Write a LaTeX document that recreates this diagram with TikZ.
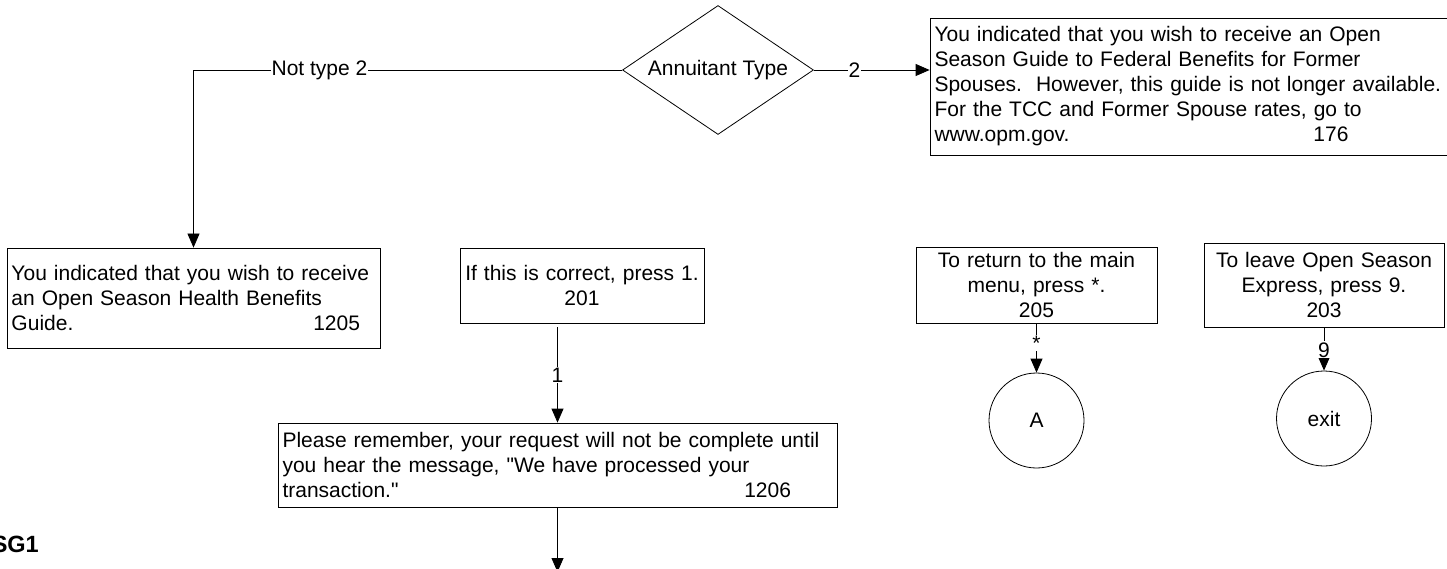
\documentclass[tikz,border=0pt]{standalone}
\usepackage{fontspec}
\setmainfont{Liberation Sans}[Ligatures=TeXOff]
\usetikzlibrary{shapes.geometric,arrows.meta}
\begin{document}
\begin{tikzpicture}[x=1pt,y=-1pt,
  every node/.style={font=\fontsize{21}{25}\selectfont},
  box/.style={draw, line width=0.8pt, inner xsep=4.5pt, inner ysep=0pt, rectangle},
  lbox/.style={box, align=left},
  cbox/.style={box, align=center},
  conn/.style={draw, line width=0.8pt},
  arr/.style={conn, -{Triangle[length=14pt,width=12pt]}},
  lab/.style={fill=white, inner sep=1pt},
  term/.style={circle, draw, line width=0.8pt, minimum size=95pt, inner sep=0pt}
]
\useasboundingbox (0,0) rectangle (1447,569);

\node[diamond, draw, line width=0.8pt, inner sep=0pt, minimum width=191pt, minimum height=129pt] (type) at (718,70) {\makebox[0pt]{Annuitant Type}};

\node[lbox, text width=508pt, minimum height=137pt] (b176) at (1188.5,86.5)
 {You indicated that you wish to receive an Open\\
  Season Guide to Federal Benefits for Former\\
  Spouses.\ \ However, this guide is not longer available.\\
  For the TCC and Former Spouse rates, go to\\
  www.opm.gov.\hfill 176\rule{94pt}{0pt}};

\node[lbox, text width=364pt, minimum height=100pt] (b1205) at (193.5,298)
 {You indicated that you wish to receive\\
  an Open Season Health Benefits\\
  Guide.\hfill 1205\rule{15.5pt}{0pt}};

\node[cbox, text width=235pt, minimum height=75pt] (b201) at (582,285.5)
 {If this is correct, press 1.\\ 201};

\node[lbox, text width=550pt, minimum height=84pt] (b1206) at (557.5,465)
 {Please remember, your request will not be complete until\\
  you hear the message, "We have processed your\\
  transaction."\hfill 1206\rule{41.5pt}{0pt}};

\node[cbox, text width=232pt, minimum height=76pt] (b205) at (1036.5,285)
 {To return to the main\\ menu, press *.\\ 205};

\node[cbox, text width=231pt, minimum height=84pt] (b203) at (1324,285)
 {To leave Open Season\\ Express, press 9.\\ 203};

\node[term] (A) at (1036.5,420.5) {A};
\node[term] (exit) at (1324,418.5) {exit};

\node[anchor=base east, font=\fontsize{23.5}{25}\selectfont\bfseries, inner sep=0pt] (sg) at (39,552) {SG1};

\coordinate (end) at (557.5,572);
\coordinate (c1s) at (b1206.north |- b201.south);

\draw[arr] (type.west) -| node[lab, pos=0.353] {Not type 2} (b1205.north);
\draw[arr] (type.east) -- node[lab, pos=0.35] {2} (type.east -| b176.west);
\draw[arr] ([yshift=-4pt]c1s) -- node[lab] {1} (b1206.north);
\draw[arr] (b205.south) -- node[lab, pos=0.4] {*} (A.north);
\draw[arr] (b203.south) -- node[lab, pos=0.52] {9} (exit.north);
\draw[arr] (b1206.south) -- (end);
\end{tikzpicture}
\end{document}
